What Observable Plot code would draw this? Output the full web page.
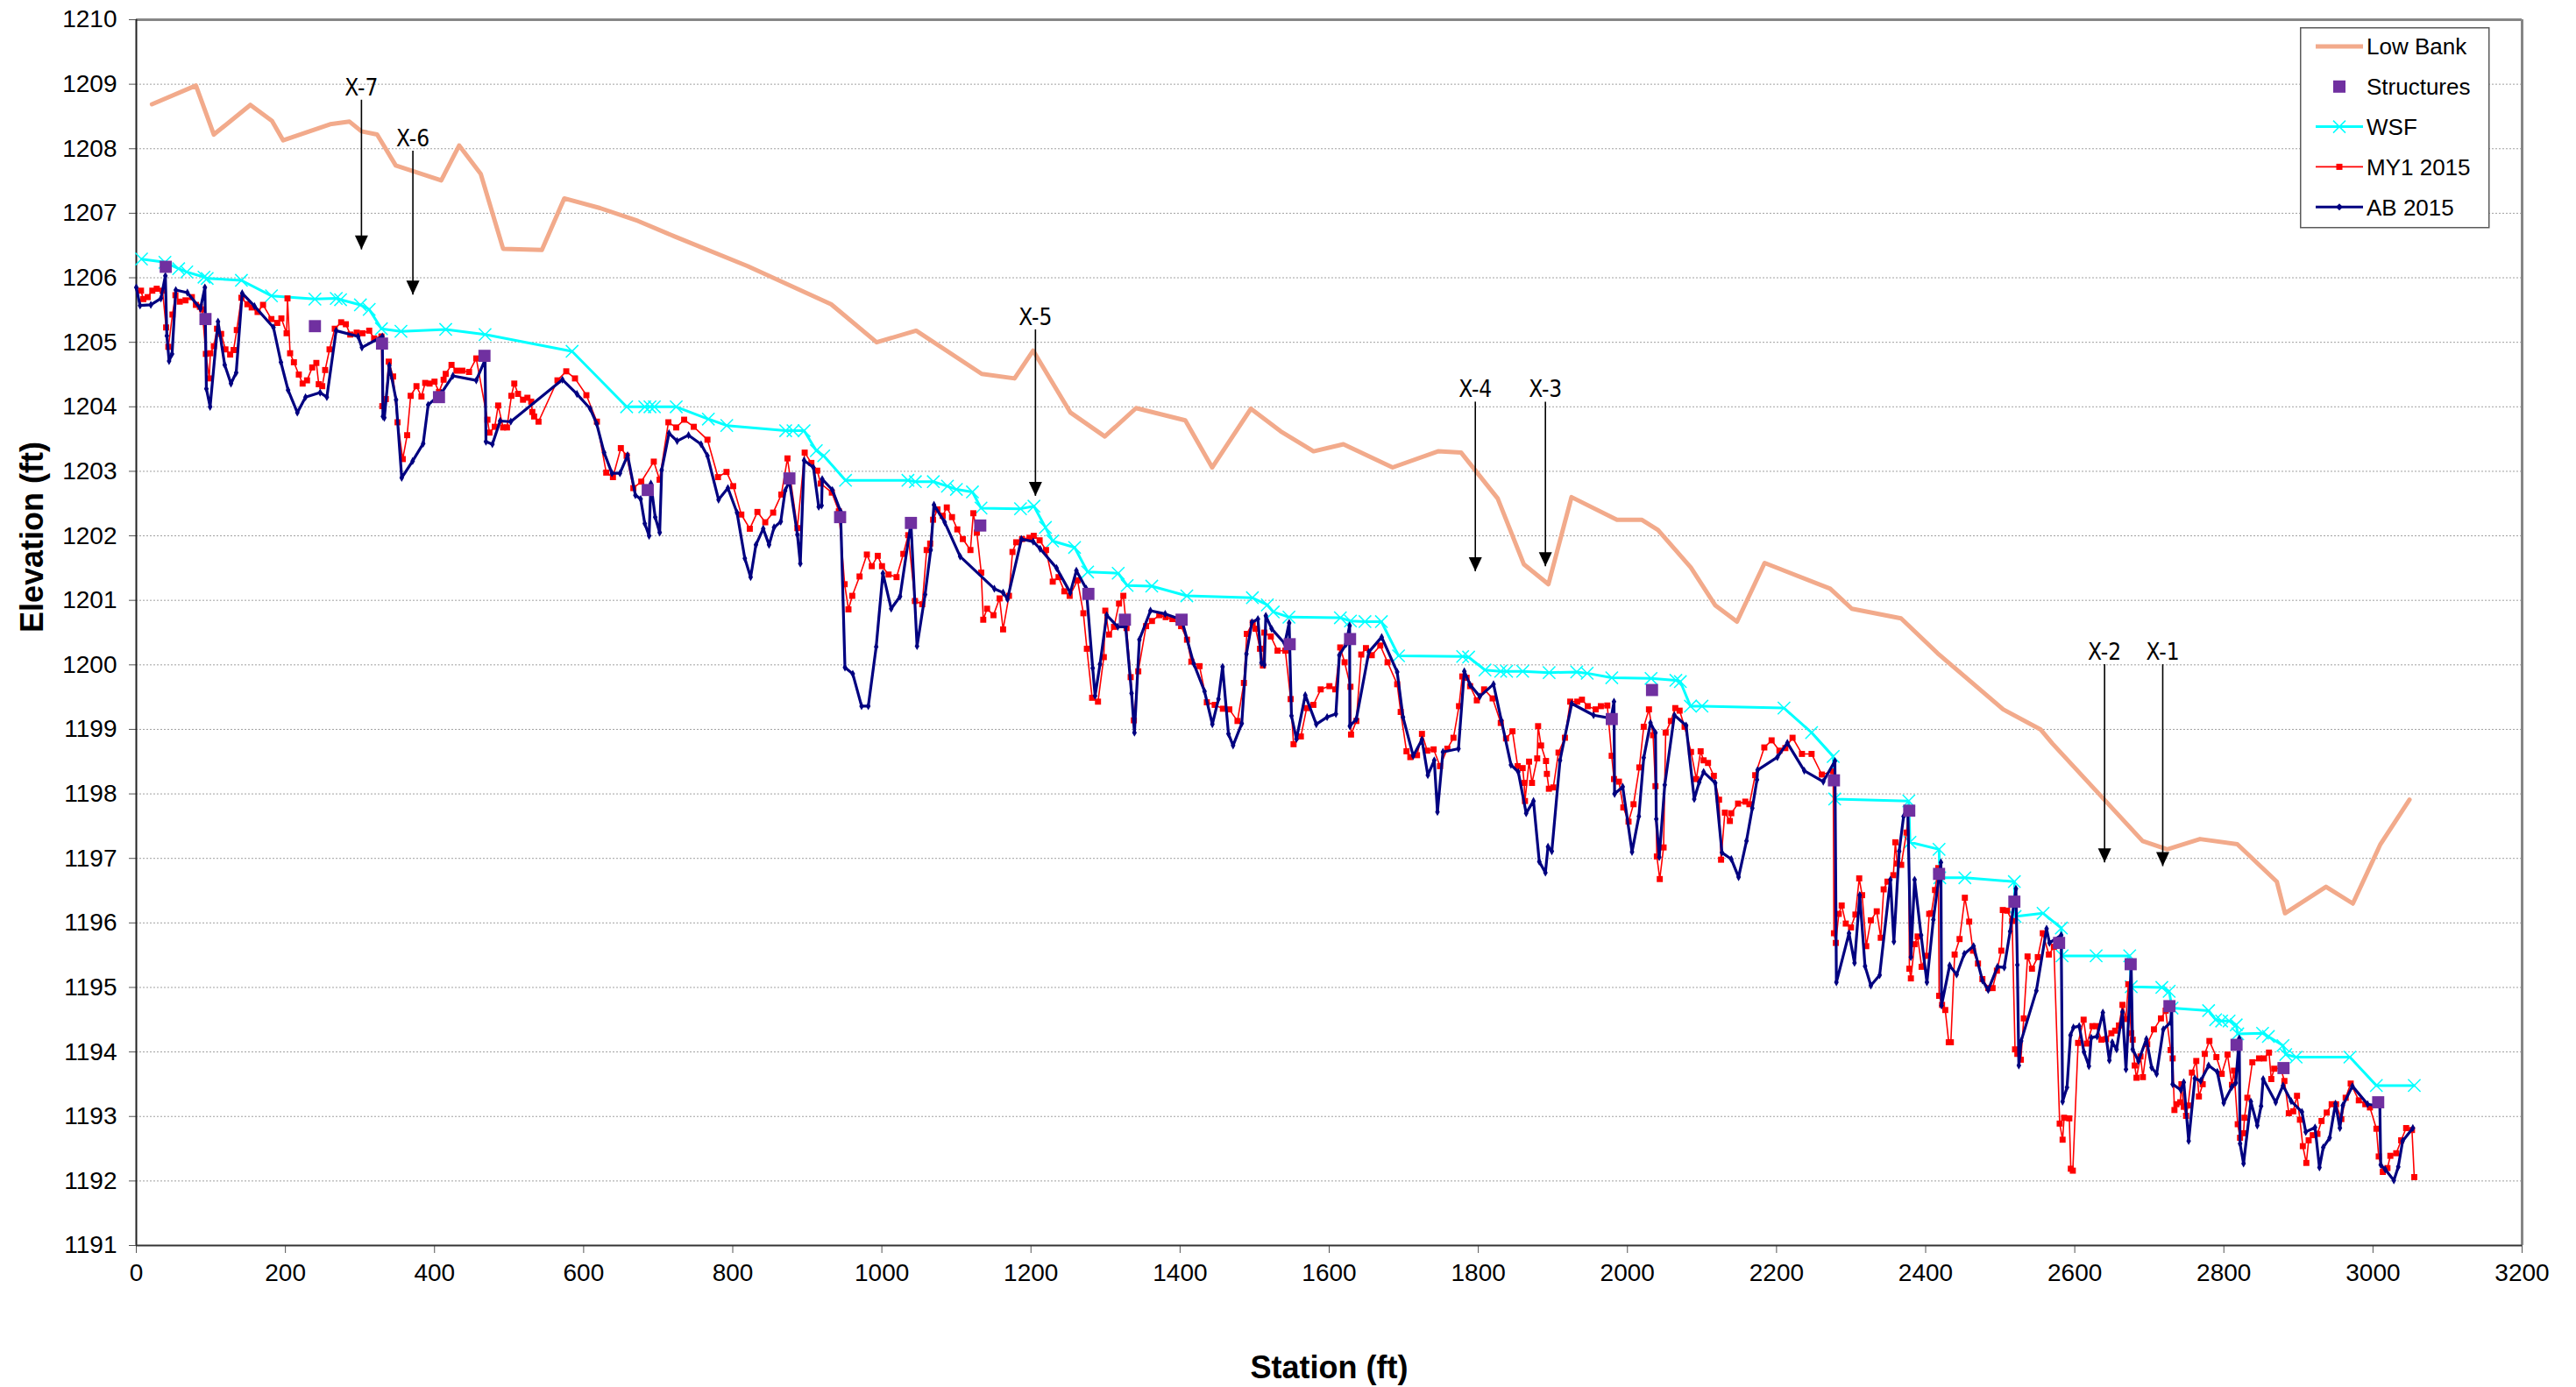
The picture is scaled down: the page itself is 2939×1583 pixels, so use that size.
<!DOCTYPE html>
<html><head><meta charset="utf-8">
<script src="https://cdn.jsdelivr.net/npm/d3@7"></script>
<script src="https://cdn.jsdelivr.net/npm/@observablehq/plot@0.6"></script>
<style>
html,body{margin:0;padding:0;background:#fff;}
#wrap{position:relative;width:2939px;height:1583px;}
#legend{position:absolute;left:2624px;top:31px;}
</style></head><body><div id="wrap"></div>
<script>
// ---------- data: [station (ft), elevation (ft)] ----------
const lowBank = [[21,1208.69],[80,1208.98],[104,1208.22],[153,1208.68],[182,1208.43],[197,1208.13],[260,1208.38],[286,1208.42],[302,1208.27],[323,1208.22],[348,1207.74],[409,1207.51],[433,1208.05],[462,1207.61],[492,1206.45],[544,1206.43],[574,1207.23],[622,1207.08],[673,1206.88],[722,1206.64],[820,1206.18],[932,1205.59],[993,1205.0],[1046,1205.18],[1134,1204.51],[1178,1204.44],[1203,1204.87],[1253,1203.91],[1299,1203.54],[1341,1203.98],[1407,1203.79],[1443,1203.06],[1495,1203.97],[1535,1203.62],[1579,1203.31],[1619,1203.42],[1685,1203.06],[1746,1203.31],[1777,1203.29],[1826,1202.58],[1861,1201.56],[1894,1201.25],[1925,1202.6],[1986,1202.25],[2019,1202.25],[2041,1202.09],[2085,1201.51],[2118,1200.92],[2147,1200.67],[2184,1201.58],[2272,1201.18],[2301,1200.87],[2367,1200.72],[2416,1200.18],[2504,1199.31],[2554,1199.0],[2570,1198.78],[2691,1197.27],[2724,1197.14],[2768,1197.3],[2818,1197.22],[2871,1196.64],[2882,1196.15],[2937,1196.56],[2973,1196.3],[3010,1197.22],[3049,1197.91]];

const structures = [[39.5,1206.17],[92.8,1205.36],[239.6,1205.25],[329.6,1204.98],[406,1204.15],[467,1204.79],[686,1202.71],[876,1202.89],[944,1202.29],[1039,1202.2],[1132,1202.16],[1277,1201.1],[1326,1200.7],[1402,1200.7],[1547,1200.32],[1628,1200.4],[1979,1199.16],[2033,1199.61],[2277,1198.21],[2378,1197.74],[2418,1196.76],[2519,1196.33],[2579,1195.69],[2675,1195.36],[2727,1194.71],[2817,1194.11],[2880,1193.75],[3007,1193.22]];

const wsf = [[7,1206.29],[38.4,1206.24],[56.8,1206.14],[67.7,1206.09],[90.8,1206.01],[95.1,1205.99],[141,1205.96],[181.3,1205.72],[239.6,1205.67],[268.2,1205.68],[274,1205.66],[300.6,1205.58],[312.4,1205.51],[328.8,1205.21],[355,1205.17],[415,1205.2],[467.8,1205.12],[584.5,1204.86],[657.7,1204.0],[682,1204.0],[689,1204.0],[694.9,1204.0],[724.2,1204.0],[767.3,1203.81],[792,1203.71],[871,1203.63],[880.8,1203.63],[895.7,1203.63],[912.1,1203.32],[922,1203.24],[951.3,1202.86],[1035,1202.86],[1045,1202.84],[1069,1202.84],[1088,1202.77],[1100,1202.72],[1121.5,1202.68],[1133,1202.43],[1186,1202.42],[1204,1202.46],[1219.4,1202.13],[1229,1201.92],[1258.5,1201.82],[1276,1201.44],[1317,1201.42],[1329,1201.23],[1362,1201.22],[1409,1201.07],[1497,1201.04],[1517,1200.93],[1525,1200.82],[1546,1200.74],[1615,1200.73],[1628.5,1200.68],[1648,1200.67],[1670,1200.67],[1693,1200.14],[1779,1200.13],[1787,1200.12],[1809,1199.92],[1830,1199.9],[1838,1199.9],[1859.5,1199.9],[1895,1199.88],[1932,1199.89],[1946,1199.87],[1979,1199.8],[2031.7,1199.79],[2065,1199.76],[2071,1199.74],[2084.5,1199.36],[2100,1199.36],[2210,1199.33],[2247,1198.95],[2276,1198.58],[2278,1197.92],[2377.4,1197.89],[2379,1197.25],[2418,1197.14],[2419,1196.7],[2452.6,1196.7],[2519,1196.64],[2520,1196.1],[2557.5,1196.15],[2582,1195.92],[2583,1195.49],[2628.7,1195.49],[2673.7,1195.49],[2675.7,1195.01],[2716.8,1195.0],[2726.6,1194.94],[2730.5,1194.68],[2779.5,1194.64],[2789,1194.5],[2797,1194.48],[2807,1194.48],[2816.6,1194.42],[2818.6,1194.28],[2851.9,1194.29],[2859.7,1194.24],[2879.3,1194.1],[2883,1193.96],[2896.9,1193.92],[2969,1193.92],[3004.5,1193.48],[3055.4,1193.48]];

const my1_2015 = [[6.3,1205.8],[9.4,1205.67],[15.3,1205.7],[21.5,1205.8],[27.4,1205.83],[35.2,1205.8],[40,1205.23],[43,1204.93],[48.5,1205.43],[52.5,1205.73],[58.3,1205.63],[66,1205.65],[74.5,1205.7],[80,1205.58],[85.3,1205.55],[88.4,1205.51],[93.3,1204.82],[97.9,1204.44],[99.3,1204.83],[104,1204.94],[108.3,1205.21],[113.8,1205.13],[119.6,1204.89],[125.9,1204.81],[130.5,1204.88],[134.8,1205.19],[141,1205.69],[149,1205.59],[154.8,1205.54],[162.7,1205.47],[170,1205.58],[181.2,1205.36],[189.1,1205.3],[194.6,1205.37],[201.6,1205.14],[202.8,1205.68],[206.3,1204.83],[211.4,1204.69],[218,1204.5],[223.1,1204.36],[229,1204.41],[236,1204.61],[241.5,1204.68],[244.7,1204.35],[249.4,1204.32],[253.3,1204.57],[259.2,1204.89],[266.2,1205.21],[274.8,1205.31],[281.1,1205.28],[287,1205.12],[295.6,1205.15],[303.4,1205.14],[312.4,1205.18],[319,1205.06],[328.8,1205.09],[330,1204.01],[334.7,1204.12],[338.6,1204.7],[344.5,1204.47],[350.4,1203.76],[357.4,1203.19],[363.3,1203.56],[368,1204.17],[375.8,1204.32],[382.5,1204.16],[387.5,1204.37],[393.4,1204.36],[400,1204.39],[406,1204.23],[412.2,1204.42],[415,1204.51],[422.8,1204.65],[429.4,1204.56],[437.3,1204.56],[446.3,1204.54],[456,1204.75],[471,1203.8],[473.7,1203.6],[480.8,1203.69],[485.4,1204.02],[492,1203.68],[497.2,1203.68],[503.1,1204.17],[507,1204.36],[512,1204.2],[518.7,1204.11],[524.6,1204.14],[529.7,1204.08],[531.2,1203.92],[533.6,1203.85],[539.5,1203.77],[564.9,1204.41],[576.7,1204.55],[588.4,1204.44],[603.7,1204.18],[617.8,1203.77],[630.3,1202.98],[639.3,1202.91],[649.9,1203.36],[657.7,1203.24],[666.7,1202.74],[677.3,1202.84],[694.1,1203.15],[701.9,1202.87],[713.7,1203.76],[724.2,1203.68],[734.8,1203.8],[747.7,1203.69],[766.1,1203.49],[780.2,1202.91],[791.6,1202.99],[800.6,1202.77],[811.5,1202.33],[822.9,1202.11],[833.1,1202.37],[843.6,1202.21],[854.2,1202.36],[865.2,1202.64],[873.4,1203.2],[886.7,1202.12],[896.5,1203.29],[905.5,1203.13],[913.3,1203.01],[918,1202.81],[932.9,1202.67],[942.3,1202.38],[950.1,1201.25],[955.2,1200.86],[960.3,1201.07],[970.1,1201.37],[979.9,1201.71],[986.5,1201.53],[994.5,1201.69],[1000.2,1201.53],[1009,1201.4],[1019.7,1201.36],[1028.8,1201.72],[1035.4,1202.01],[1044.4,1200.99],[1054.2,1200.94],[1060.1,1201.78],[1064.8,1201.88],[1068.7,1202.25],[1074.6,1202.41],[1081.6,1202.31],[1087.1,1202.44],[1094.1,1202.29],[1101.2,1202.1],[1108.6,1201.95],[1118.8,1201.78],[1122.7,1202.35],[1127.4,1202.05],[1133.3,1201.43],[1136,1200.7],[1141.1,1200.87],[1149.7,1200.77],[1157.9,1201.03],[1162.6,1200.55],[1170.5,1201.07],[1175.2,1201.75],[1180.2,1201.9],[1188.1,1201.95],[1197.9,1201.97],[1203.7,1202.0],[1211.6,1201.93],[1220.2,1201.78],[1229.2,1201.29],[1237,1201.36],[1244.8,1201.14],[1251.9,1201.07],[1262.5,1201.31],[1270.3,1200.8],[1275,1200.25],[1282,1199.49],[1289.9,1199.43],[1297.7,1200.12],[1299.7,1200.84],[1304.7,1200.47],[1311.4,1200.59],[1318.1,1200.95],[1323.9,1201.07],[1328.2,1200.57],[1333.7,1199.81],[1338,1199.14],[1343.9,1199.9],[1354.4,1200.6],[1362.3,1200.68],[1372.1,1200.77],[1380.7,1200.74],[1389.7,1200.71],[1401.4,1200.6],[1409.3,1200.39],[1415.1,1200.05],[1426.1,1199.98],[1435.9,1199.42],[1446.4,1199.38],[1457.4,1199.32],[1466,1199.31],[1477,1199.13],[1485.6,1199.72],[1489.5,1200.48],[1497.4,1200.65],[1501.3,1200.56],[1507.2,1200.25],[1511.1,1199.99],[1513,1200.5],[1521.7,1200.44],[1530.7,1200.22],[1541.2,1200.22],[1548.3,1199.47],[1552.2,1198.77],[1562,1198.89],[1569.8,1199.33],[1578.8,1199.38],[1588.6,1199.62],[1600.3,1199.67],[1608.2,1199.62],[1614.8,1200.27],[1620.7,1200.04],[1628.5,1199.66],[1629.3,1198.92],[1636.4,1199.13],[1643,1200.16],[1649.3,1200.26],[1657.1,1200.15],[1668.5,1200.3],[1678.3,1200.04],[1691.2,1199.7],[1695.9,1199.27],[1703.7,1198.66],[1708.8,1198.57],[1717.8,1198.6],[1724.4,1198.93],[1731.5,1198.67],[1740.1,1198.69],[1748.7,1198.43],[1758.5,1198.7],[1766.7,1198.87],[1774.1,1199.36],[1778.5,1199.82],[1784.3,1199.8],[1789,1199.67],[1798,1199.45],[1807.8,1199.62],[1819.2,1199.48],[1830.1,1199.1],[1837.2,1198.86],[1845.8,1198.97],[1852.8,1198.43],[1859.5,1198.4],[1861.5,1198.17],[1862.6,1197.89],[1868.1,1198.5],[1872,1198.17],[1879,1198.55],[1880.2,1199.05],[1884.2,1198.75],[1890.8,1198.51],[1892,1198.31],[1894.7,1198.08],[1900.6,1198.1],[1907.6,1198.64],[1916.2,1198.87],[1923.3,1199.43],[1932.7,1199.43],[1939,1199.46],[1946.8,1199.36],[1957.4,1199.31],[1964.4,1199.36],[1973,1199.37],[1978.9,1198.59],[1982,1198.23],[1988.6,1198.19],[1994.5,1197.79],[2001.5,1197.57],[2008.2,1197.84],[2016,1198.41],[2021.9,1199.04],[2028.9,1199.31],[2034.4,1198.91],[2037.6,1198.12],[2039.5,1197.03],[2043.4,1196.68],[2048.5,1197.17],[2051.3,1198.95],[2058.3,1199.13],[2064.2,1199.33],[2070,1199.29],[2076.7,1199.04],[2085.3,1198.65],[2092.4,1198.23],[2098.2,1198.66],[2102.2,1198.52],[2108.1,1198.48],[2115.9,1198.28],[2122.9,1197.91],[2125.6,1196.98],[2130.7,1197.71],[2137.4,1197.58],[2139.3,1197.7],[2148.4,1197.85],[2158.1,1197.88],[2163.6,1197.84],[2171.4,1198.29],[2183.6,1198.72],[2193.4,1198.83],[2203.9,1198.67],[2211.8,1198.71],[2221.5,1198.87],[2234.1,1198.62],[2247,1198.62],[2260.7,1198.3],[2276,1198.35],[2277,1195.84],[2279.5,1195.69],[2283.5,1196.14],[2287.4,1196.27],[2292.9,1195.99],[2299.9,1195.93],[2305.8,1196.13],[2310.9,1196.69],[2314.8,1196.43],[2320.3,1195.64],[2326.5,1196.04],[2334.4,1196.18],[2339.8,1195.77],[2343.7,1196.52],[2348.8,1196.64],[2356.7,1196.74],[2359.4,1197.25],[2361.8,1196.92],[2367.2,1196.9],[2374.3,1197.4],[2377,1197.75],[2378.2,1195.29],[2380.2,1195.14],[2385.2,1195.67],[2389.2,1195.79],[2394.6,1195.32],[2401,1195.49],[2404.8,1196.14],[2407.6,1196.15],[2412.6,1196.51],[2417,1196.85],[2418.1,1194.87],[2422,1194.73],[2426.3,1194.65],[2431,1194.15],[2433.8,1194.15],[2438.9,1195.51],[2445.5,1195.75],[2452.6,1196.39],[2458.4,1196.02],[2463.5,1195.57],[2470.2,1195.37],[2476.1,1195.13],[2483.9,1194.99],[2489.8,1194.99],[2495.6,1195.26],[2501.5,1195.57],[2503.5,1196.2],[2509.3,1196.19],[2516,1196.03],[2519.9,1194.04],[2523,1193.97],[2527.7,1193.88],[2531.6,1194.52],[2536.7,1195.48],[2542.6,1195.29],[2550.4,1195.47],[2557.1,1195.84],[2565.3,1195.51],[2572,1195.63],[2579.8,1192.89],[2583.7,1192.64],[2585.7,1192.98],[2592.7,1192.97],[2594.7,1192.19],[2597.4,1192.16],[2604.5,1194.14],[2611.9,1194.5],[2616.2,1194.13],[2623.6,1194.4],[2628.7,1194.4],[2635.8,1194.19],[2642,1194.2],[2649.1,1194.29],[2654.2,1194.33],[2659.3,1194.41],[2664,1194.73],[2668.7,1194.51],[2671.8,1195.05],[2675.7,1194.29],[2677.7,1194.19],[2680.4,1193.79],[2682.8,1193.6],[2688.2,1193.93],[2691.4,1193.61],[2697.2,1194.12],[2706.2,1194.35],[2715.6,1194.52],[2721.9,1194.64],[2728.6,1194.03],[2731.3,1193.9],[2733.7,1193.1],[2736.4,1193.19],[2741.5,1193.22],[2743.1,1193.5],[2746.2,1193.15],[2749.3,1193.01],[2752,1193.17],[2757.1,1193.68],[2763,1193.86],[2766.5,1193.31],[2771.6,1193.5],[2774.4,1193.97],[2780.6,1194.17],[2790,1193.92],[2797.1,1193.66],[2804.9,1193.96],[2810.8,1193.49],[2813.5,1193.71],[2818.6,1192.88],[2821.7,1192.67],[2826.4,1192.74],[2827.6,1192.98],[2831.5,1193.29],[2838.2,1193.84],[2847.2,1193.9],[2853.8,1193.9],[2860.5,1193.99],[2863.6,1193.58],[2867.5,1193.74],[2876.2,1193.75],[2881.2,1193.55],[2887.1,1193.05],[2893,1193.08],[2898.1,1193.32],[2902,1192.95],[2905.9,1192.54],[2910.6,1192.28],[2913.7,1192.63],[2919.2,1192.71],[2925.5,1192.73],[2931,1192.93],[2938,1193.06],[2944.6,1193.19],[2950.5,1193.19],[2957.6,1192.96],[2963.4,1193.29],[2970.1,1193.51],[2981,1193.25],[2989.7,1193.19],[2995.9,1193.14],[3004.6,1192.81],[3007.7,1192.38],[3013.2,1192.14],[3019.4,1192.2],[3023.3,1192.39],[3031.2,1192.43],[3037.8,1192.63],[3044.5,1192.82],[3052.3,1192.79],[3055.4,1192.06]];

const ab_2015 = [[0,1205.85],[5,1205.57],[19.5,1205.58],[33,1205.68],[39,1206.03],[41,1205.1],[44,1204.71],[48,1204.82],[53,1205.81],[68.5,1205.77],[86,1205.52],[92,1205.85],[94,1204.28],[99,1204.0],[109.6,1205.32],[118.6,1204.65],[127,1204.36],[134,1204.53],[142,1205.76],[158.5,1205.56],[184,1205.23],[194,1204.69],[203.6,1204.26],[216,1203.91],[227,1204.15],[246.6,1204.22],[255.6,1204.15],[268,1205.18],[297.5,1205.09],[302.6,1204.92],[330,1205.09],[330.8,1203.85],[332.7,1203.83],[339.4,1204.64],[348.4,1204.11],[356,1202.9],[370.7,1203.16],[384.8,1203.43],[391.5,1204.03],[409,1204.21],[424.7,1204.48],[456,1204.41],[467.8,1204.73],[469,1203.46],[477.6,1203.42],[488,1203.78],[502.3,1203.77],[571.6,1204.42],[591,1204.2],[608.8,1203.97],[617.4,1203.74],[627.5,1203.29],[638,1202.97],[648.7,1202.97],[659,1203.25],[669.4,1202.63],[676.5,1202.57],[682,1202.19],[687.8,1202.0],[690.2,1202.81],[696,1202.29],[702,1202.05],[704.7,1203.02],[714.5,1203.59],[725.4,1203.47],[740.7,1203.56],[757.5,1203.42],[766.1,1203.24],[781,1202.56],[793.5,1202.74],[805.7,1202.36],[816.2,1201.65],[824,1201.36],[831.1,1201.86],[840.9,1202.11],[848.7,1201.86],[855.4,1202.13],[864.4,1202.22],[870.3,1202.7],[876,1202.85],[886.7,1202.02],[890.6,1201.57],[895.7,1203.17],[908.2,1203.06],[915.3,1202.45],[919.2,1202.47],[920,1202.88],[933.7,1202.71],[944.6,1202.38],[950.5,1199.96],[961,1199.86],[972.8,1199.36],[981.8,1199.36],[992.4,1200.28],[1001.4,1201.42],[1012.5,1200.87],[1024.4,1201.06],[1039,1202.2],[1047.2,1200.29],[1058,1201.09],[1065.5,1201.78],[1069.9,1202.48],[1084.3,1202.21],[1105,1201.68],[1150.9,1201.18],[1162.6,1201.12],[1168.5,1201.02],[1187.3,1201.95],[1203,1201.91],[1212.3,1201.8],[1234.3,1201.5],[1252.7,1201.12],[1260.9,1201.46],[1274.2,1201.18],[1282.8,1199.95],[1286,1199.52],[1292.6,1200.01],[1301.6,1200.77],[1316.5,1200.59],[1327,1200.59],[1334.9,1199.56],[1338.8,1198.95],[1345.4,1200.39],[1360.3,1200.84],[1380,1200.79],[1402.2,1200.7],[1418.3,1200.02],[1432.8,1199.59],[1443.3,1199.08],[1451.5,1199.47],[1457,1199.97],[1464.9,1198.93],[1471.1,1198.75],[1482.7,1199.09],[1489,1200.17],[1496.4,1200.66],[1504.4,1200.71],[1509.1,1200.03],[1513,1200.0],[1515,1200.76],[1522.8,1200.56],[1540.4,1200.33],[1546.3,1200.65],[1549.4,1199.21],[1556.1,1198.85],[1567.9,1199.53],[1582.7,1199.08],[1597.2,1199.19],[1609,1199.24],[1613.6,1200.15],[1622.6,1200.32],[1627.4,1200.61],[1627.7,1199.05],[1636.4,1199.16],[1653.2,1200.2],[1670.4,1200.43],[1691.2,1199.89],[1699,1199.19],[1712.7,1198.59],[1724.4,1198.84],[1732.3,1198.29],[1740.9,1198.52],[1745.2,1197.72],[1752.6,1198.65],[1773.4,1198.7],[1781.2,1199.9],[1789,1199.69],[1802,1199.51],[1820.4,1199.7],[1830.9,1199.14],[1843.8,1198.45],[1853.6,1198.34],[1864.2,1197.7],[1874,1197.89],[1881.8,1196.95],[1890,1196.78],[1893.5,1197.18],[1898.6,1197.11],[1909.6,1198.52],[1925.3,1199.4],[1954.6,1199.22],[1978.1,1199.17],[1982,1199.43],[1982.8,1198.0],[1993.7,1198.11],[2006.2,1197.1],[2015.3,1197.65],[2021.9,1198.56],[2030.9,1199.1],[2037.6,1198.95],[2038.7,1197.61],[2042.7,1197.02],[2050.1,1198.14],[2063,1199.22],[2078.7,1199.06],[2089.6,1197.92],[2096.3,1198.18],[2102.2,1198.34],[2117.8,1198.17],[2126.8,1197.09],[2139.3,1196.99],[2149.1,1196.71],[2159.7,1197.27],[2167.5,1197.78],[2173.8,1198.22],[2174.6,1198.37],[2201.2,1198.57],[2214.5,1198.79],[2237.2,1198.36],[2262.7,1198.19],[2278.3,1198.51],[2280.3,1195.08],[2297.2,1195.84],[2304.6,1195.38],[2311.6,1196.43],[2318.7,1195.33],[2326.5,1195.03],[2338.3,1195.19],[2352.7,1196.67],[2357.4,1195.71],[2364.5,1197.11],[2370.4,1197.65],[2376,1197.77],[2380.2,1195.47],[2385.2,1196.67],[2393.9,1195.81],[2401.7,1195.08],[2410.3,1196.05],[2420.5,1196.94],[2421.3,1194.72],[2432.2,1195.34],[2441.6,1195.2],[2451.8,1195.52],[2464.3,1195.64],[2476.1,1195.11],[2483.9,1194.96],[2496.4,1195.32],[2505.4,1195.31],[2513.3,1195.87],[2521.1,1196.53],[2523,1195.35],[2525,1193.79],[2528.1,1194.17],[2548.5,1194.95],[2562.2,1195.91],[2566.1,1195.69],[2581.8,1195.81],[2583.7,1193.23],[2589.6,1193.45],[2594.3,1194.26],[2598.2,1194.38],[2606,1194.4],[2612.3,1194.0],[2619,1193.78],[2622.1,1194.22],[2629.9,1194.24],[2637.7,1194.61],[2646.4,1193.87],[2650.3,1194.15],[2656.1,1194.04],[2664,1194.62],[2668.7,1193.73],[2675.7,1195.32],[2677.7,1194.04],[2685.5,1193.86],[2696.1,1194.2],[2703.1,1193.76],[2709.8,1193.66],[2718.8,1194.35],[2728.6,1194.46],[2730,1194.7],[2731.3,1193.5],[2742.3,1193.41],[2746.2,1193.53],[2752.8,1192.62],[2761.1,1193.59],[2768.9,1193.55],[2779.5,1193.79],[2791.2,1193.69],[2799.8,1193.21],[2810.8,1193.46],[2815.9,1193.52],[2820.6,1194.21],[2821.7,1192.58],[2826.4,1192.27],[2836.2,1193.23],[2844.8,1192.86],[2849.9,1193.16],[2852.7,1193.58],[2869.5,1193.22],[2879.3,1193.48],[2890.2,1193.24],[2904.7,1193.07],[2909.8,1192.76],[2922.3,1192.83],[2928.2,1192.21],[2933.3,1192.52],[2941.9,1192.67],[2949.7,1193.2],[2955.6,1192.82],[2959.5,1193.17],[2972.4,1193.47],[2992.8,1193.19],[3009.2,1193.16],[3010.4,1192.25],[3016.3,1192.18],[3028,1192.01],[3033.9,1192.22],[3039.8,1192.62],[3053.5,1192.82]];

// cross-section annotations
const xsLabels   = ["X-7","X-6","X-5","X-4","X-3","X-2","X-1"];
const xsStations = [302, 371, 1206, 1796, 1890, 2640, 2718];
const xsTop      = [1208.76, 1207.97, 1205.2, 1204.08, 1204.08, 1200.01, 1200.01];
const xsTip      = [1206.44, 1205.74, 1202.62, 1201.45, 1201.53, 1196.94, 1196.88];

// axes
const xTicks = d3.range(0, 3201, 200);
const yTicks = d3.range(1191, 1211, 1);
const xTitle = "Station (ft)";
const yTitle = "Elevation (ft)";

// legend entries
const legendNames = ["Low Bank", "Structures", "WSF", "MY1 2015", "AB 2015"];

// ---------- chart ----------
const COL = {low:"#F2AA8B", struct:"#7030A0", wsf:"#00FFFF", my1:"#FF0000", ab:"#000080"};
const xs = xsLabels.map((t,i)=>({t, x:xsStations[i], y1:xsTop[i], y2:xsTip[i]}));
const downTri = {draw(ctx){ctx.moveTo(-7.5,-16);ctx.lineTo(7.5,-16);ctx.lineTo(0,0);ctx.closePath();}};
const X = d=>d[0], Y = d=>d[1];

const chart = Plot.plot({
  width: 2939, height: 1583,
  marginLeft: 155, marginRight: 62, marginTop: 22, marginBottom: 162,
  style: {fontFamily: "'Liberation Sans', Arial, sans-serif", fontSize: "28px", background: "#fff", color: "#000"},
  x: {domain: [xTicks[0], xTicks[xTicks.length-1]]},
  y: {domain: [yTicks[0], yTicks[yTicks.length-1]]},
  marks: [
    Plot.ruleY(yTicks.slice(1, -1), {stroke: "#a0a0a0", strokeWidth: 1, strokeDasharray: "2,2"}),
    Plot.ruleY([yTicks[yTicks.length-1]], {stroke: "#868686", strokeWidth: 3}),
    Plot.ruleX([xTicks[xTicks.length-1]], {stroke: "#868686", strokeWidth: 3}),
    Plot.axisX({ticks: xTicks, tickSize: 9, tickPadding: 12, tickFormat: d3.format("d"), label: null, stroke: "#555"}),
    Plot.axisY({ticks: yTicks, tickSize: 8, tickPadding: 14, tickFormat: d3.format("d"), label: null, stroke: "#555"}),
    Plot.ruleX([xTicks[0]], {stroke: "#222", strokeWidth: 2}),
    Plot.ruleY([yTicks[0]], {stroke: "#333", strokeWidth: 2}),
    // Low bank
    Plot.line(lowBank, {x: X, y: Y, stroke: COL.low, strokeWidth: 5}),
    // WSF
    Plot.line(wsf, {x: X, y: Y, stroke: COL.wsf, strokeWidth: 3}),
    Plot.dot(wsf, {x: X, y: Y, symbol: "times", r: 6.5, stroke: COL.wsf, strokeWidth: 1.5}),
    // MY1 2015
    Plot.line(my1_2015, {x: X, y: Y, stroke: COL.my1, strokeWidth: 1.6}),
    Plot.dot(my1_2015, {x: X, y: Y, symbol: "square", r: 3.9, fill: COL.my1, stroke: "none"}),
    // AB 2015
    Plot.line(ab_2015, {x: X, y: Y, stroke: COL.ab, strokeWidth: 3.2}),
    Plot.dot(ab_2015, {x: X, y: Y, symbol: "diamond", r: 2.8, fill: COL.ab, stroke: "none"}),
    // Structures
    Plot.dot(structures, {x: X, y: Y, symbol: "square", r: 7.8, fill: COL.struct, stroke: "none"}),
    // annotations
    Plot.link(xs, {x1: "x", x2: "x", y1: "y1", y2: "y2", stroke: "#000", strokeWidth: 1.6}),
    Plot.dot(xs, {x: "x", y: "y2", symbol: downTri, fill: "#000", stroke: "none"}),
    Plot.text(xs, {x: "x", y: "y1", text: "t", dy: -5, lineAnchor: "bottom", fontSize: 26,
      fontFamily: "'Liberation Sans Narrow', 'Arial Narrow', 'DejaVu Sans Condensed', sans-serif"}),
    // axis titles
    Plot.text([yTitle], {text: d=>d, frameAnchor: "left", dx: -118, rotate: -90, fontSize: 36, fontWeight: "bold"}),
    Plot.text([xTitle], {text: d=>d, frameAnchor: "bottom", dy: 151, fontSize: 36, fontWeight: "bold"})
  ]
});
document.getElementById("wrap").append(chart);

// ---------- legend (inside plot, top right) ----------
const lg = d3.select("#wrap").append("svg").attr("id","legend")
  .attr("width", 217).attr("height", 230)
  .style("font-family", "'Liberation Sans', Arial, sans-serif");
lg.append("rect").attr("x",0.75).attr("y",0.75).attr("width",215).attr("height",228)
  .attr("fill","#fff").attr("stroke","#5a5a5a").attr("stroke-width",1.5);
const rowY = i => 22 + i*45.8;
legendNames.forEach((name,i)=>{
  const g = lg.append("g").attr("transform",`translate(0,${rowY(i)})`);
  if (i===0) g.append("line").attr("x1",18).attr("x2",72).attr("stroke",COL.low).attr("stroke-width",5);
  if (i===1) g.append("rect").attr("x",38).attr("y",-7).attr("width",14).attr("height",14).attr("fill",COL.struct);
  if (i===2) { g.append("line").attr("x1",18).attr("x2",72).attr("stroke",COL.wsf).attr("stroke-width",3);
    g.append("path").attr("d","M38,-7L52,7M38,7L52,-7").attr("stroke",COL.wsf).attr("stroke-width",1.5); }
  if (i===3) { g.append("line").attr("x1",18).attr("x2",72).attr("stroke",COL.my1).attr("stroke-width",1.6);
    g.append("rect").attr("x",41.5).attr("y",-3.5).attr("width",7).attr("height",7).attr("fill",COL.my1); }
  if (i===4) { g.append("line").attr("x1",18).attr("x2",72).attr("stroke",COL.ab).attr("stroke-width",3);
    g.append("path").attr("d","M45,-4L49,0L45,4L41,0Z").attr("fill",COL.ab); }
  g.append("text").attr("x",76).attr("dy","0.36em").attr("font-size",26).attr("fill","#000").text(name);
});
</script>
</body></html>
